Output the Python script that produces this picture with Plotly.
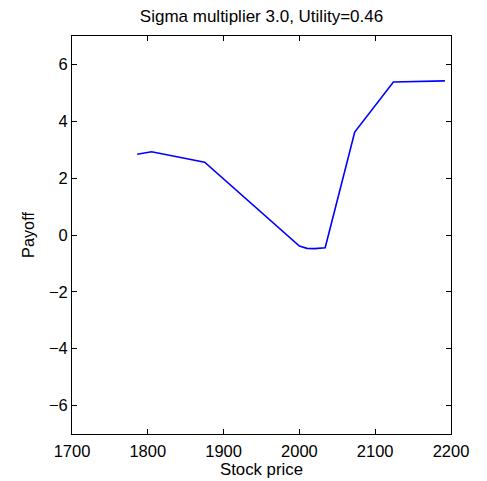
import plotly.graph_objects as go

stock_price = [1786, 1805, 1875, 2000, 2010, 2020, 2034, 2073, 2124, 2192]
payoff = [2.84, 2.93, 2.56, -0.39, -0.47, -0.48, -0.45, 3.62, 5.38, 5.42]

x_ticks = [1700, 1800, 1900, 2000, 2100, 2200]
y_ticks = [-6, -4, -2, 0, 2, 4, 6]
y_tick_text = ["\u22126", "\u22124", "\u22122", "0", "2", "4", "6"]

fig = go.Figure()
fig.add_trace(go.Scatter(x=stock_price, y=payoff, mode="lines",
                         line=dict(color="#0000ff", width=1.6), showlegend=False))

font = "Liberation Sans, Arial, Helvetica, sans-serif"
axis_common = dict(showline=True, linecolor="black", linewidth=1, mirror="ticks",
                   ticks="inside", ticklen=5, tickcolor="black", showgrid=False,
                   zeroline=False, automargin=False,
                   tickfont=dict(family=font, size=16.5, color="black"))

W, H = 479, 473
fig.update_layout(
    template="none",
    width=W, height=H,
    margin=dict(l=64, r=36, t=28, b=47),
    paper_bgcolor="white", plot_bgcolor="white",
    title=dict(text="Sigma multiplier 3.0, Utility=0.46", xref="paper", x=0.5, xanchor="center",
               yref="container", y=1 - 8 / H, yanchor="middle",
               font=dict(family=font, size=17, color="black")),
    xaxis=dict(range=[1700, 2200], tickvals=x_ticks, ticktext=[str(v) for v in x_ticks],
               ticklabelstandoff=2,
               title=dict(text="Stock price", standoff=4, font=dict(family=font, size=16.8, color="black")),
               **axis_common),
    yaxis=dict(range=[-7, 7], tickvals=y_ticks, ticktext=y_tick_text,
               ticklabelstandoff=0,
               title=dict(text="Payoff", standoff=10, font=dict(family=font, size=16.3, color="black")),
               **axis_common),
)
fig.write_html("out.html")
